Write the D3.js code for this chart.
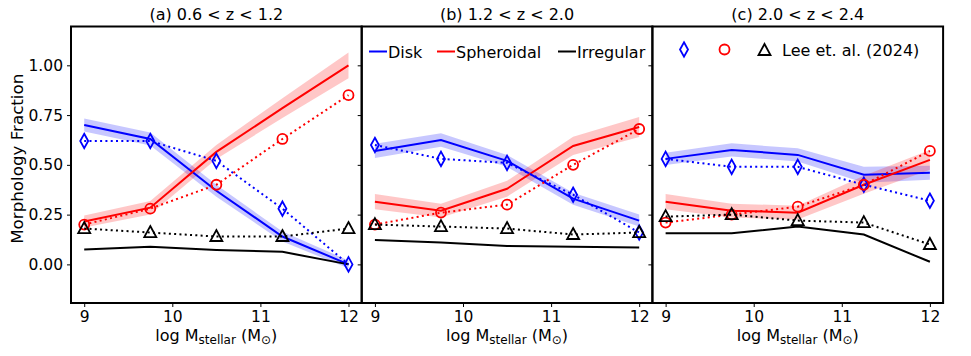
<!DOCTYPE html>
<html>
<head>
<meta charset="utf-8">
<script src="https://cdn.jsdelivr.net/npm/d3@7"></script>
<style>
  body { margin: 0; background: #fff; }
  svg { font-family: "DejaVu Sans", sans-serif; }
</style>
</head>
<body>
<svg id="chart" width="971" height="356"></svg>
<script>
// stellar mass bins (log M)
const masses = [9, 9.75, 10.5, 11.25, 12];
const panelTitles = ["(a) 0.6 < z < 1.2", "(b) 1.2 < z < 2.0", "(c) 2.0 < z < 2.4"];
const yTicks = [0, 0.25, 0.5, 0.75, 1.0];
const xTicks = [9, 10, 11, 12];

// model fractions, one row per redshift panel
const diskFrac = [
  [0.70, 0.63, 0.37, 0.14, 0.00],
  [0.57, 0.625, 0.52, 0.33, 0.22],
  [0.53, 0.575, 0.55, 0.45, 0.46]
];
const diskErr = [
  [0.033, 0.033, 0.03, 0.025, 0.02],
  [0.036, 0.034, 0.03, 0.03, 0.03],
  [0.031, 0.033, 0.033, 0.04, 0.035]
];
const sphFrac = [
  [0.215, 0.285, 0.565, 0.785, 1.00],
  [0.315, 0.27, 0.38, 0.595, 0.69],
  [0.315, 0.27, 0.26, 0.40, 0.525]
];
const sphErr = [
  [0.03, 0.034, 0.035, 0.05, 0.065],
  [0.038, 0.035, 0.04, 0.046, 0.05],
  [0.038, 0.035, 0.035, 0.045, 0.05]
];
const irrFrac = [
  [0.075, 0.088, 0.072, 0.063, 0.0],
  [0.122, 0.11, 0.092, 0.088, 0.085],
  [0.156, 0.156, 0.19, 0.15, 0.013]
];

// Lee et al. (2024)
const leeDisk = [
  [0.62, 0.62, 0.52, 0.28, 0.0],
  [0.60, 0.53, 0.51, 0.35, 0.16],
  [0.53, 0.49, 0.49, 0.40, 0.32]
];
const leeSph = [
  [0.20, 0.28, 0.40, 0.63, 0.85],
  [0.20, 0.26, 0.30, 0.50, 0.68],
  [0.21, 0.25, 0.29, 0.40, 0.57]
];
const leeIrr = [
  [0.18, 0.16, 0.14, 0.14, 0.18],
  [0.20, 0.19, 0.18, 0.15, 0.16],
  [0.24, 0.25, 0.22, 0.21, 0.10]
];

const BLUE = "#0000ff", RED = "#ff0000", BLACK = "#000000";

const svg = d3.select("#chart");
const panelLeft = 71, panelW = 290.7, plotTop = 26.5, plotBottom = 303;

const y = d3.scaleLinear().domain([-0.194, 1.195]).range([plotBottom, plotTop]);

function diamond(g, cx, cy, color) {
  g.append("path")
    .attr("d", `M${cx},${cy - 7.2} L${cx + 4},${cy} L${cx},${cy + 7.2} L${cx - 4},${cy} Z`)
    .attr("fill", "none").attr("stroke", color).attr("stroke-width", 1.8);
}
function circle(g, cx, cy, color) {
  g.append("circle").attr("cx", cx).attr("cy", cy).attr("r", 5)
    .attr("fill", "none").attr("stroke", color).attr("stroke-width", 1.8);
}
function triangle(g, cx, cy, color) {
  g.append("path")
    .attr("d", `M${cx},${cy - 6.5} L${cx + 6},${cy + 4.5} L${cx - 6},${cy + 4.5} Z`)
    .attr("fill", "none").attr("stroke", color).attr("stroke-width", 1.8);
}

panelTitles.forEach((title, p) => {
  const x0 = panelLeft + p * panelW;
  const x = d3.scaleLinear().domain([8.85, 12.15]).range([x0, x0 + panelW]);
  const g = svg.append("g");

  const line = d3.line().x((d, i) => x(masses[i])).y(d => y(d));
  const band = d3.area()
    .x(d => x(d.m))
    .y0(d => y(d.v - d.e))
    .y1(d => y(d.v + d.e));

  const bandData = (vals, errs) => vals.map((v, i) => ({ m: masses[i], v: v, e: errs[i] }));

  // clip to the panel
  const clipId = "clip" + p;
  svg.append("clipPath").attr("id", clipId)
    .append("rect").attr("x", x0).attr("y", plotTop).attr("width", panelW).attr("height", plotBottom - plotTop);
  const plot = g.append("g").attr("clip-path", `url(#${clipId})`);

  plot.append("path").attr("d", band(bandData(diskFrac[p], diskErr[p])))
    .attr("fill", BLUE).attr("fill-opacity", 0.22);
  plot.append("path").attr("d", band(bandData(sphFrac[p], sphErr[p])))
    .attr("fill", RED).attr("fill-opacity", 0.22);

  [[diskFrac[p], BLUE], [sphFrac[p], RED], [irrFrac[p], BLACK]].forEach(([vals, c]) => {
    plot.append("path").attr("d", line(vals))
      .attr("fill", "none").attr("stroke", c).attr("stroke-width", 2);
  });

  [[leeDisk[p], BLUE, diamond], [leeSph[p], RED, circle], [leeIrr[p], BLACK, triangle]].forEach(([vals, c, mk]) => {
    plot.append("path").attr("d", line(vals))
      .attr("fill", "none").attr("stroke", c).attr("stroke-width", 2)
      .attr("stroke-dasharray", "2,3.3");
    vals.forEach((v, i) => mk(plot, x(masses[i]), y(v), c));
  });

  // axes
  const xAxis = d3.axisBottom(x).tickValues(xTicks).tickFormat(d3.format("d"))
    .tickSize(4).tickPadding(4);
  const gx = g.append("g").attr("transform", `translate(0,${plotBottom})`).call(xAxis);
  const yAxis = d3.axisLeft(y).tickValues(yTicks).tickFormat(d3.format(".2f"))
    .tickSize(4).tickPadding(4);
  const gy = g.append("g").attr("transform", `translate(${x0},0)`).call(yAxis);
  if (p > 0) gy.selectAll("text").remove();
  [gx, gy].forEach(a => {
    a.select(".domain").remove();
    a.selectAll("line").attr("stroke", BLACK).attr("stroke-width", 1);
    a.selectAll("text").attr("font-size", 15.5).attr("fill", BLACK)
      .attr("font-family", "DejaVu Sans");
  });

  // frame
  g.append("rect").attr("x", x0).attr("y", plotTop).attr("width", panelW).attr("height", plotBottom - plotTop)
    .attr("fill", "none").attr("stroke", BLACK).attr("stroke-width", 2);

  // title
  g.append("text").attr("x", x0 + panelW / 2).attr("y", 20)
    .attr("text-anchor", "middle").attr("font-size", 16).text(title);

  // x label
  const xl = g.append("text").attr("x", x0 + panelW / 2).attr("y", 340.5)
    .attr("text-anchor", "middle").attr("font-size", 16);
  xl.append("tspan").text("log M");
  xl.append("tspan").attr("font-size", 12).attr("dy", 3).text("stellar");
  xl.append("tspan").attr("dy", -3).text(" (M");
  xl.append("tspan").attr("font-size", 12).attr("dy", 3).text("⊙");
  xl.append("tspan").attr("dy", -3).text(")");

  // legends
  if (p === 1) {
    const items = [["Disk", BLUE, 369], ["Spheroidal", RED, 437], ["Irregular", BLACK, 558]];
    items.forEach(([lab, c, lx]) => {
      g.append("line").attr("x1", lx).attr("x2", lx + 18).attr("y1", 51.5).attr("y2", 51.5)
        .attr("stroke", c).attr("stroke-width", 2);
      g.append("text").attr("x", lx + 19).attr("y", 57.5).attr("font-size", 16).text(lab);
    });
  }
  if (p === 2) {
    diamond(g, 684, 49.5, BLUE);
    circle(g, 724.5, 49.5, RED);
    triangle(g, 764.5, 50.5, BLACK);
    g.append("text").attr("x", 782).attr("y", 55.5).attr("font-size", 16).text("Lee et. al. (2024)");
  }
});

// y label
svg.append("text")
  .attr("transform", `translate(23,${(plotTop + plotBottom) / 2 - 6}) rotate(-90)`)
  .attr("text-anchor", "middle").attr("font-size", 16.7)
  .text("Morphology Fraction");
</script>
</body>
</html>
